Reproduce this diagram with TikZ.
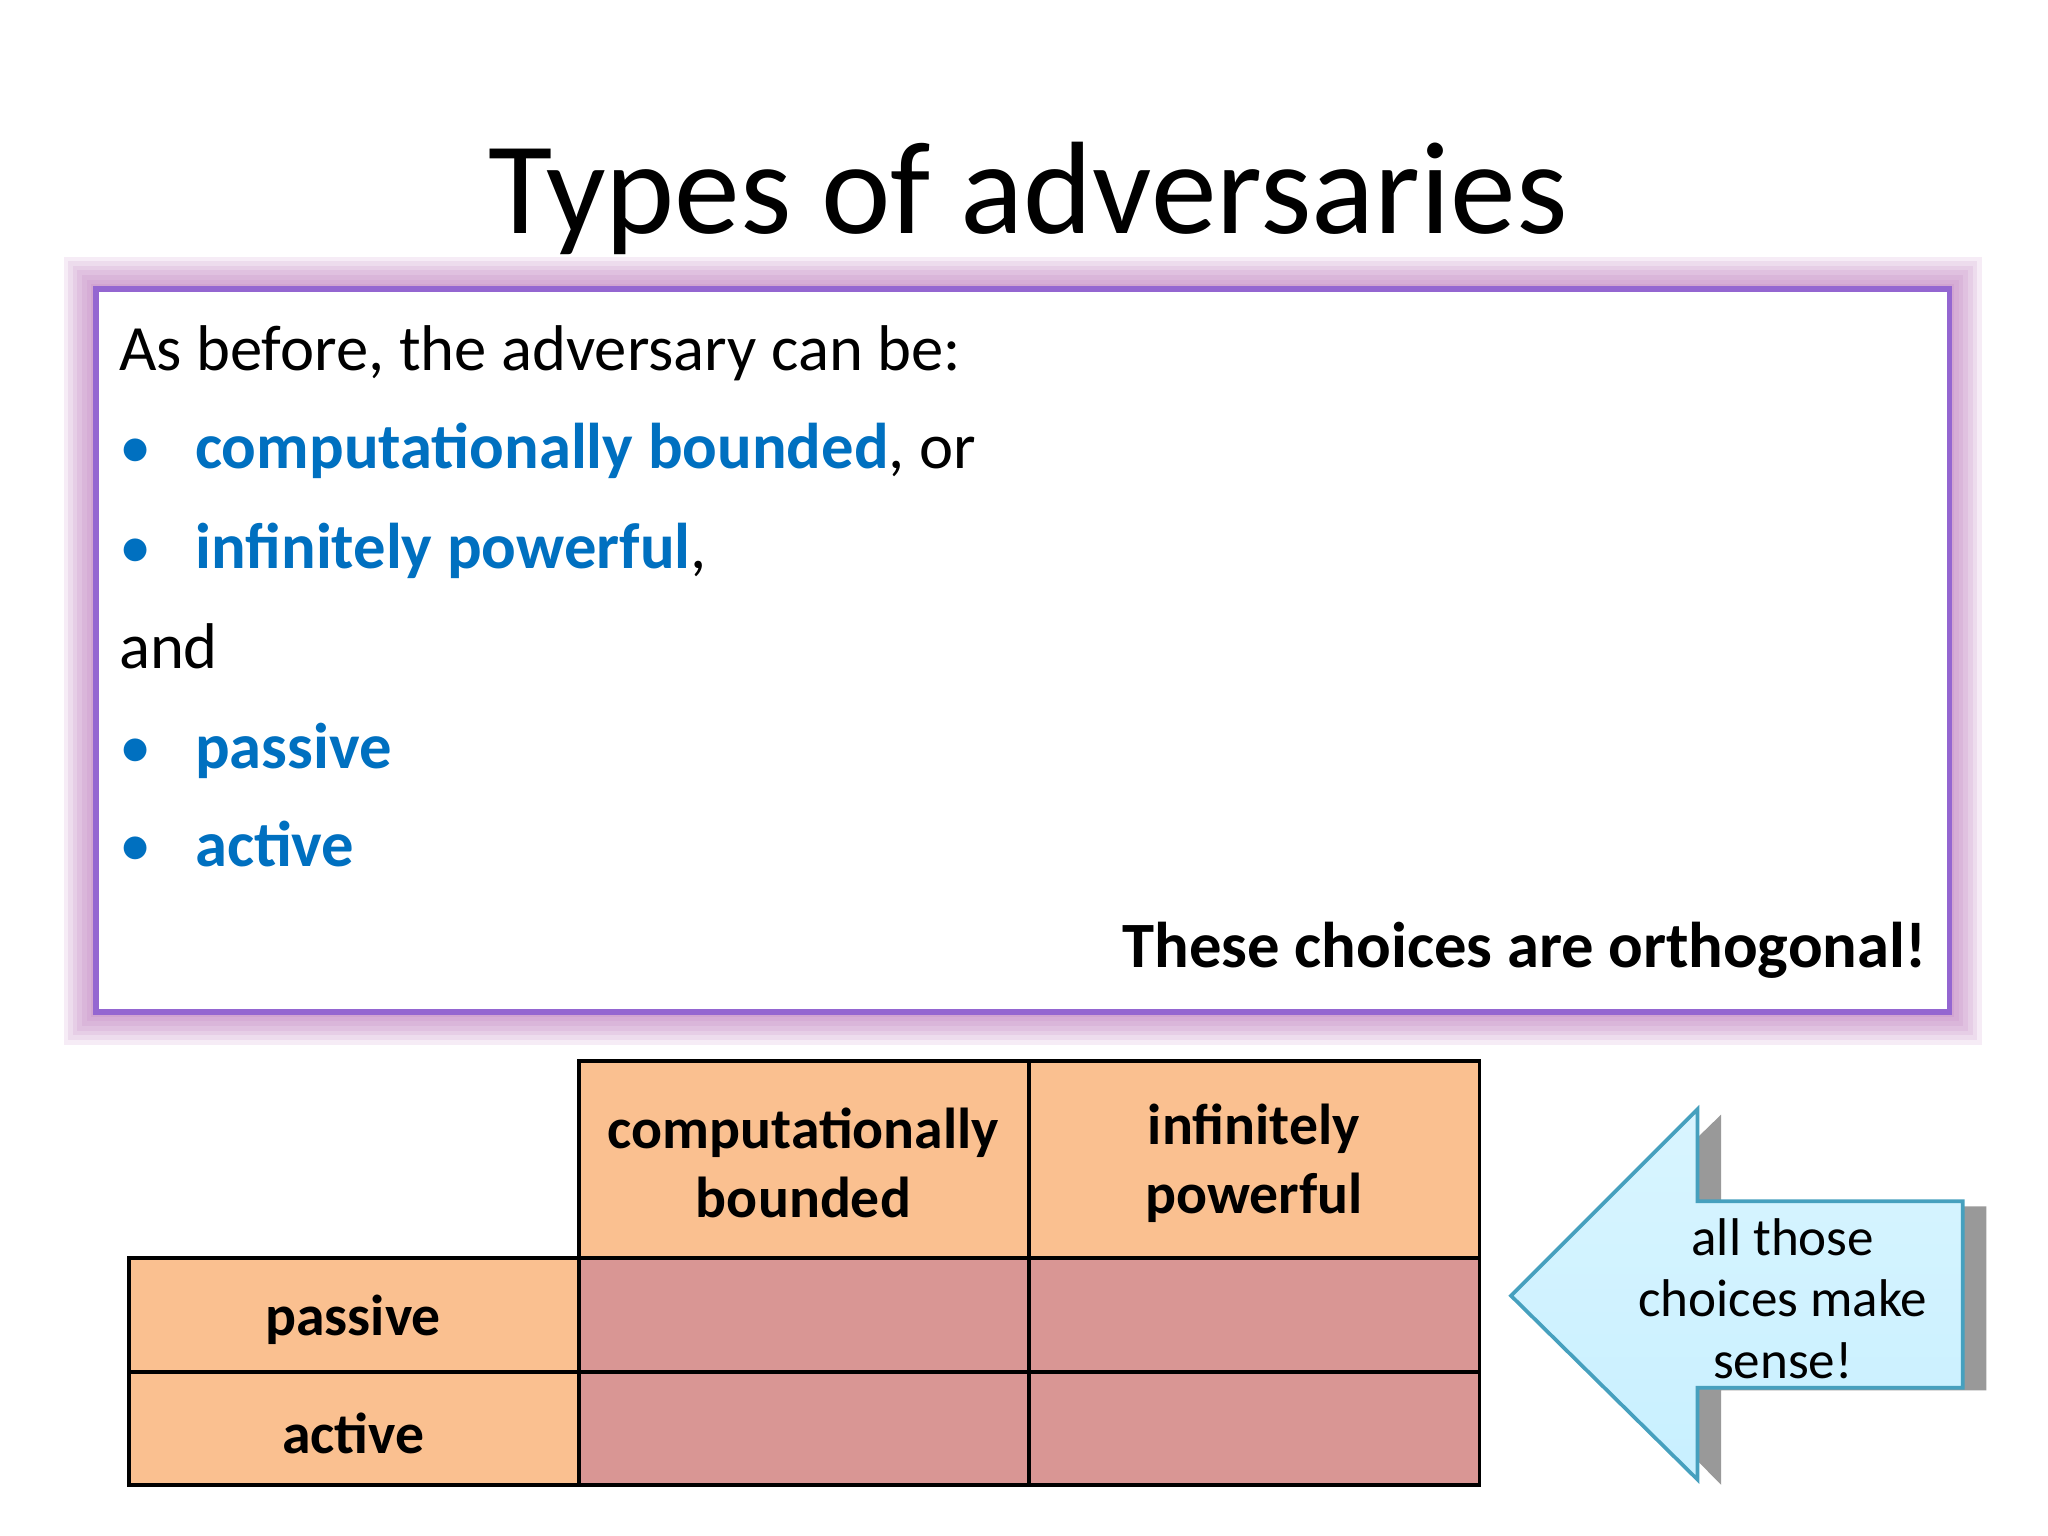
\documentclass[tikz,border=0pt]{standalone}
\usepackage{fontspec}
\setmainfont{Carlito}
\usetikzlibrary{shadows.blur}
\definecolor{blu}{RGB}{0,112,192}
\definecolor{hdr}{RGB}{250,192,144}
\definecolor{cellc}{RGB}{217,150,148}
\definecolor{cyanl}{RGB}{200,240,255}
\definecolor{cyand}{RGB}{70,160,190}
\tikzset{
  body/.style={anchor=base west,font=\fontsize{14}{16}\selectfont,inner sep=0},
  hcell/.style={draw,fill=hdr,line width=0.8pt},
  ccell/.style={draw,fill=cellc,line width=0.8pt},
  ctext/.style={font=\fontsize{12.5}{15}\selectfont\bfseries,align=center},
}
\begin{document}
\begin{tikzpicture}[x=0.01cm,y=-0.01cm]
\useasboundingbox (0,0) rectangle (1560,1170);
\node[font=\fontsize{28.5}{30}\selectfont,anchor=base] (title) at (783,178) {Types of adversaries};
% box with glow
\foreach \i in {14,12,...,2}{
  \draw[line width=\i pt, draw=violet!60!white, opacity=0.12] (73,220) rectangle (1485,771);
}
\draw[fill=white,draw=blue!40!violet!60,line width=1.2pt] (73,220) rectangle (1485,771);
\node[body] (l1) at (90,282) {As before, the adversary can be:};
\node[body,text=blu] (b1) at (90,357) {•};
\node[body] (l2) at (148,357) {\textcolor{blu}{\bfseries computationally bounded}, or};
\node[body,text=blu] (b2) at (90,433) {•};
\node[body] (l3) at (148,433) {\textcolor{blu}{\bfseries infinitely powerful},};
\node[body] (l4) at (90,509) {and};
\node[body,text=blu] (b3) at (90,585) {•};
\node[body,text=blu,font=\fontsize{14}{16}\selectfont\bfseries] (l5) at (148,585) {passive};
\node[body,text=blu] (b4) at (90,660) {•};
\node[body,text=blu,font=\fontsize{14}{16}\selectfont\bfseries] (l6) at (148,660) {active};
\node[body,anchor=base east,font=\fontsize{14}{16}\selectfont\bfseries] (l7) at (1468,737) {These choices are orthogonal!};
% table
\draw[hcell] (441,808) rectangle (784,958);
\draw[hcell] (784,808) rectangle (1127,958);
\draw[hcell] (98,958) rectangle (441,1045);
\draw[hcell] (98,1045) rectangle (441,1131);
\draw[ccell] (441,958) rectangle (784,1045);
\draw[ccell] (784,958) rectangle (1127,1045);
\draw[ccell] (441,1045) rectangle (784,1131);
\draw[ccell] (784,1045) rectangle (1127,1131);
\node[ctext] (h1) at (612,886) {computationally\\bounded};
\node[ctext] (h2) at (955,886) {infinitely\\powerful};
\node[ctext] (r1) at (269,1005) {passive};
\node[ctext] (r2) at (269,1092) {active};
% arrow
\fill[gray!80] (1169,987) -- (1311,849) -- (1311,919) -- (1513,919) -- (1513,1059) -- (1311,1059) -- (1311,1131) -- cycle;
\shade[top color=cyanl!70!white,bottom color=cyanl] (1151,987) -- (1293,845) -- (1293,915) -- (1495,915) -- (1495,1057) -- (1293,1057) -- (1293,1127) -- cycle;
\draw[cyand,line width=0.8pt] (1151,987) -- (1293,845) -- (1293,915) -- (1495,915) -- (1495,1057) -- (1293,1057) -- (1293,1127) -- cycle;
\node[align=center,font=\fontsize{11.5}{13.3}\selectfont] (at) at (1358,989) {all those\\choices make\\sense!};
\end{tikzpicture}
\end{document}
